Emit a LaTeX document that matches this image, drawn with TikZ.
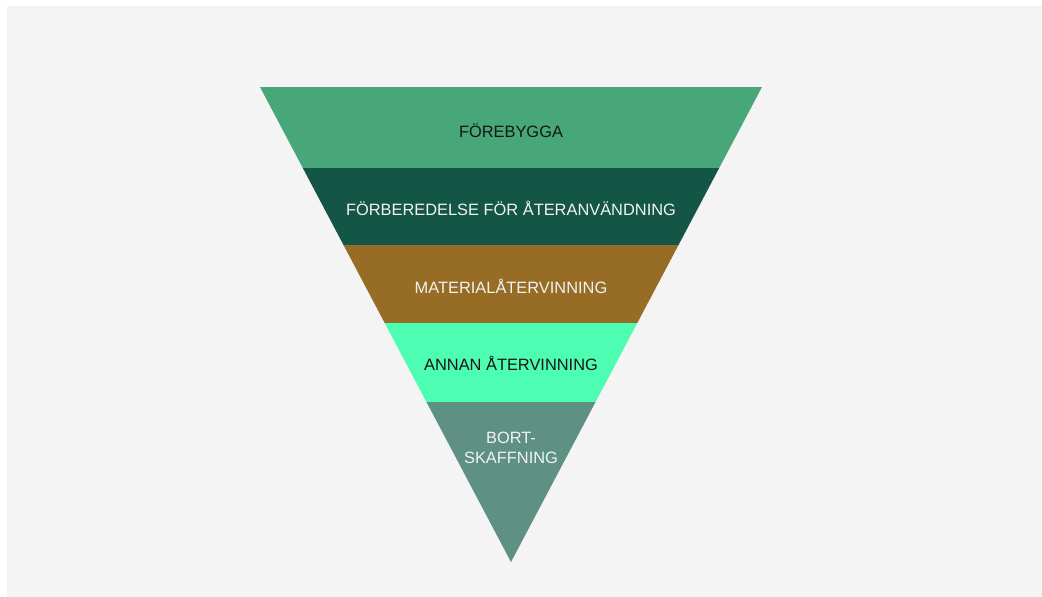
\documentclass[tikz,border=0pt]{standalone}
\usepackage{fontspec}
\setmainfont{Liberation Sans}

\definecolor{bggray}{HTML}{F4F4F4}
\definecolor{forebygga}{HTML}{47A778}
\definecolor{forberedelse}{HTML}{135645}
\definecolor{material}{HTML}{976C25}
\definecolor{annan}{HTML}{4DFDB2}
\definecolor{bort}{HTML}{5E9084}
\definecolor{dark}{HTML}{161616}
\definecolor{light}{HTML}{F2F2F2}

\begin{document}
\begin{tikzpicture}[x=1pt,y=-1pt,font=\fontsize{16.4}{20}\selectfont]
%\draw[help lines] (0,0) grid (1042,597);
\useasboundingbox (0,0) rectangle (1042,597);
\fill[bggray] (7,6) rectangle (1042,597);
\begin{scope}
\clip (260,87) -- (762,87) -- (511,562) -- cycle;
\foreach \t/\b/\c in {87/167.5/forebygga, 167.5/245/forberedelse, 245/323/material, 323/401.5/annan, 401.5/562/bort}
  \fill[\c] (250,\t) rectangle (772,\b);
\end{scope}
\foreach \y/\n/\c/\t in {137.5/fb/dark/FÖREBYGGA, 215.5/fa/light/FÖRBEREDELSE FÖR ÅTERANVÄNDNING, 293/ma/light/MATERIALÅTERVINNING, 370.5/aa/dark/ANNAN ÅTERVINNING}
  \node[anchor=base,text=\c] (\n) at (511,\y) {\t};
\node[anchor=base,text=light,align=center] (bs) at (511,463) {BORT-\\SKAFFNING};
\end{tikzpicture}
\end{document}
